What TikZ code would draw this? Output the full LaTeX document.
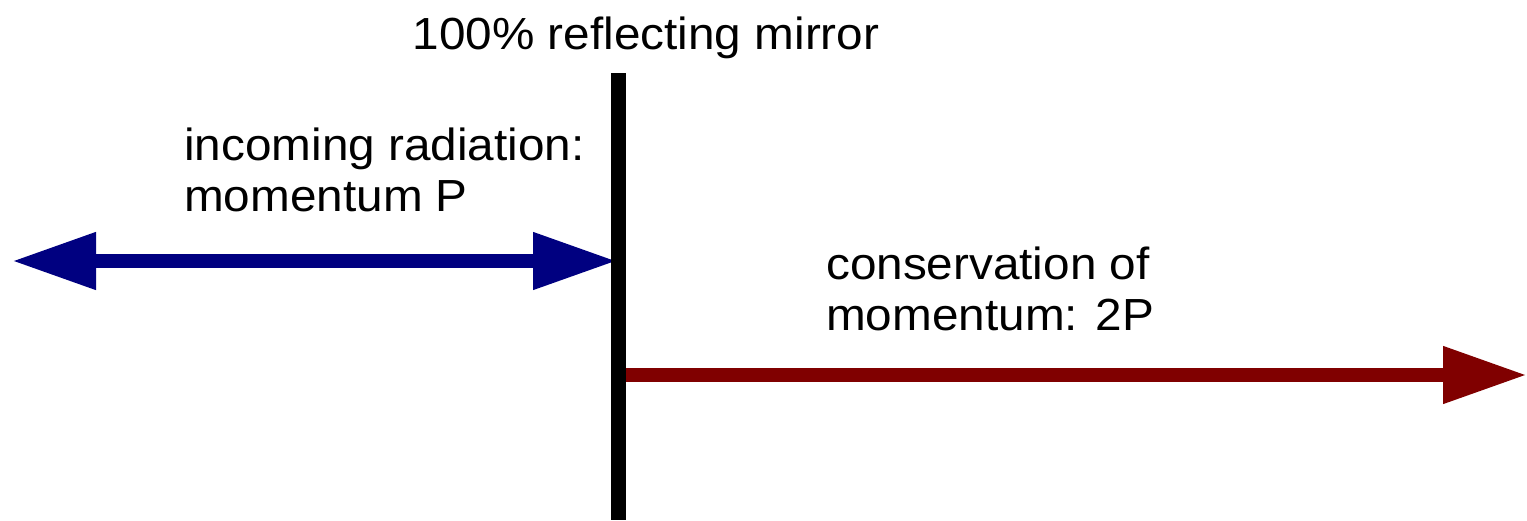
\documentclass[tikz,border=0pt]{standalone}
\usepackage{fontspec}
\setmainfont{Liberation Sans}
\newfontfamily\lab[FakeStretch=1.06]{Liberation Sans}
\usetikzlibrary{arrows.meta}
\definecolor{navyb}{HTML}{000080}
\definecolor{maroonr}{HTML}{800000}
\begin{document}
\begin{tikzpicture}[x=1pt,y=-1pt,
  txt/.style={inner sep=0pt,anchor=base west,font=\lab\fontsize{45}{51}\selectfont},
  ray/.style={line width=14pt,-{Triangle[length=84pt,width=54pt]}},
  mirror/.style={line width=15pt,black}]
\useasboundingbox (0,0) rectangle (1527,520);
\coordinate (mtop) at (618,73);
\coordinate (mbot) at (618,520);
\coordinate (bl) at (12,261);
\coordinate (bhit) at (617,261);
\coordinate (rs) at (618,375);
\coordinate (re) at (1527,375);
\draw[ray,navyb,{Triangle[length=84pt,width=54pt]}-{Triangle[length=84pt,width=54pt]}] (bl) -- (bhit);
\draw[ray,maroonr] (rs) -- (re);
\draw[mirror] (mtop) -- (mbot);
\node[txt,anchor=base] (title) at (646,49) {100\% reflecting mirror};
\node[txt] (in1) at (184,160) {incoming radiation:};
\node[txt] (in2) at (184,211) {momentum P};
\node[txt] (co1) at (826,279) {conservation of};
\node[txt] (co2) at (826,330) {momentum: 2P};
\end{tikzpicture}
\end{document}
